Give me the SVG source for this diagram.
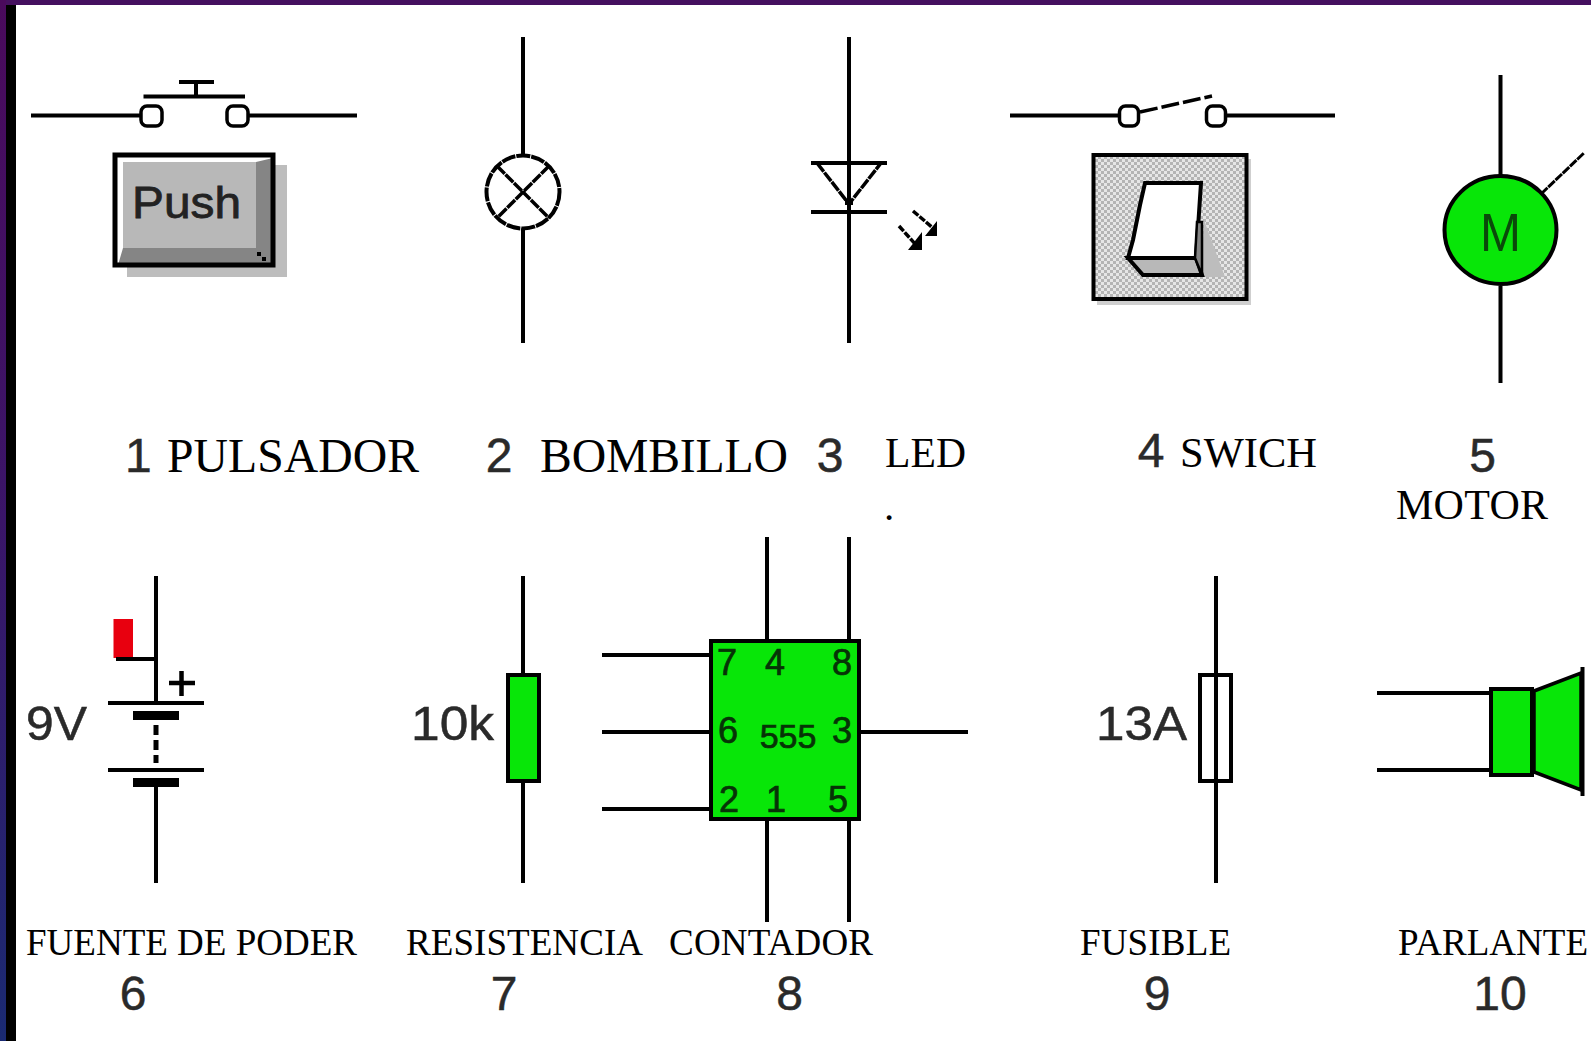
<svg xmlns="http://www.w3.org/2000/svg" width="1591" height="1041" viewBox="0 0 1591 1041">
<style>
.w{stroke:#000;stroke-width:4;fill:none}
.t{stroke:#000;stroke-width:3.5;fill:none}
.g{fill:#08e608;stroke:#000;stroke-width:4}
.s{font-family:"Liberation Serif",serif;fill:#000}
.n{font-family:"Liberation Sans",Arial,sans-serif;fill:#2a2a2a;stroke:#2a2a2a;stroke-width:.5px;font-size:48px}
.c{font-family:"Liberation Sans",Arial,sans-serif;fill:#063306;stroke:#063306;stroke-width:.7px;font-size:36px;text-anchor:middle}
.m{text-anchor:middle}
</style>
<defs>
<linearGradient id="side" x1="0" y1="0" x2="0" y2="1"><stop offset="0" stop-color="#4a0a5c"/><stop offset="0.5" stop-color="#3a1568"/><stop offset="1" stop-color="#1a2a72"/></linearGradient>
<pattern id="chk" width="6" height="6" patternUnits="userSpaceOnUse"><rect width="6" height="6" fill="#e6e6e6"/><rect width="3" height="3" fill="#b4b4b4"/><rect x="3" y="3" width="3" height="3" fill="#b4b4b4"/></pattern>
</defs>
<rect width="1591" height="1041" fill="#fff"/>
<g id="frame">
<rect width="1591" height="5" fill="#45105f"/>
<rect width="6" height="1041" fill="url(#side)"/>
<rect x="6" y="5" width="10" height="1036" fill="#000"/>
</g>
<g id="connectors">
<path class="w" d="M31 115.500H141M248 115.500H357"/>
<path class="w" d="M523 37V156M523 228V343"/>
<path class="w" d="M849 37V343"/>
<path class="w" d="M1010 115.500H1120M1226 115.500H1335"/>
<path class="w" d="M1500.500 75V175M1500.500 286V383"/>
<path class="w" d="M156 576V703M156 782V883"/>
<path class="w" d="M523 576V673M523 782V883"/>
<path class="w" d="M767 537V639M849 537V639M767 820V922M849 820V922M602 655H710M602 732H710M602 809H710M860 732H968"/>
<path class="w" d="M1216 576V883"/>
<path class="w" d="M1377 693H1490M1377 770H1490"/>
</g>
<g id="node1">
<rect x="127" y="165" width="160" height="112" fill="#bdbdbd"/>
<rect x="115" y="155" width="158" height="110" fill="#fff"/>
<rect x="123" y="162" width="150" height="103" fill="#b8b8b8"/>
<path d="M256 162L273 158V265H118L123 248H256Z" fill="#858585"/>
<path d="M257 252h4v4h-4zM262 257h4v4h-4z" fill="#000"/>
<rect x="115" y="155" width="158" height="110" fill="none" stroke="#000" stroke-width="5"/>
<text x="132" y="218" font-family="Liberation Sans,sans-serif" font-size="44" fill="#222" stroke="#222" stroke-width=".8" textLength="109" lengthAdjust="spacingAndGlyphs">Push</text>
<rect x="141" y="106" width="21" height="20" rx="6" class="t" style="fill:#fff"/>
<rect x="227" y="106" width="21" height="20" rx="6" class="t" style="fill:#fff"/>
<path class="w" d="M143.500 96.500H245M196 82V96.500M179 82H214"/>
<text class="n" x="125" y="472">1</text>
<text class="s" x="167" y="472" font-size="47.700" textLength="252">PULSADOR</text>
</g>
<g id="node2">
<circle cx="523" cy="192" r="36.500" class="w" style="fill:#fff;stroke-dasharray:14 1"/>
<path class="t" style="stroke-dasharray:11 1" d="M497 166L549 218M549 166L497 218"/>
<text class="n m" x="499" y="472">2</text>
<text class="s" x="540" y="472" font-size="47.700" textLength="248">BOMBILLO</text>
</g>
<g id="node3">
<path class="w" d="M811 163H887M811 212H887"/>
<path class="t" style="stroke-dasharray:11 1" d="M817 163L849 204L881 163"/>
<rect x="845" y="199" width="8" height="6"/>
<path class="t" style="stroke-dasharray:7 1.500" d="M913 211L933 228M899 226L917 246"/>
<path d="M937 221V236H925ZM922 232V250H908Z" fill="#000"/>
<text class="n m" x="830" y="472">3</text>
<text class="s" x="885" y="467" font-size="41.600" textLength="81">LED</text>
<text class="s" x="884" y="520" font-size="41">.</text>
</g>
<g id="node4">
<rect x="1097" y="159" width="154" height="146" fill="#cfcfcf"/>
<rect x="1093.500" y="155" width="153" height="144" fill="url(#chk)" stroke="#000" stroke-width="4"/>
<path d="M1204 220L1225 277H1201Z" fill="#bdbdbd"/>
<path d="M1145 183H1201L1196 258H1128L1133 240L1140 205Z" fill="#fff" stroke="#000" stroke-width="4"/>
<path d="M1128 258H1196L1202 275H1143Z" fill="#b8b8b8" stroke="#000" stroke-width="4"/>
<path d="M1195 258L1197 222L1202 222V275Z" fill="#858585" stroke="#000" stroke-width="2.500"/>
<rect x="1119.500" y="106" width="19" height="20" rx="6" class="t" style="fill:#fff"/>
<rect x="1206.500" y="106" width="19" height="20" rx="6" class="t" style="fill:#fff"/>
<path class="t" d="M1140 112L1212 96" style="stroke-dasharray:18 4"/>
<text class="n m" x="1151" y="467">4</text>
<text class="s" x="1180" y="467" font-size="42.500" textLength="137">SWICH</text>
</g>
<g id="node5">
<path class="t" d="M1541 194L1584 153" style="stroke-width:3;stroke-dasharray:9 1"/>
<ellipse cx="1500.500" cy="230" rx="56" ry="54" class="g"/>
<text x="1500.500" y="251" text-anchor="middle" font-family="Liberation Sans,sans-serif" font-size="54" fill="#0a4a0a" textLength="41" lengthAdjust="spacingAndGlyphs">M</text>
<text class="n m" x="1482.500" y="472">5</text>
<text class="s" x="1396" y="518.500" font-size="42" textLength="152">MOTOR</text>
</g>
<g id="node6">
<rect x="113.500" y="619" width="19.500" height="39" fill="#e8000f"/>
<path class="w" d="M116 659H156M108 703H204M108 770H204"/>
<rect x="133" y="711" width="46" height="9"/>
<rect x="133" y="778" width="46" height="9"/>
<path d="M156 725V763" stroke="#000" stroke-width="5" stroke-dasharray="10 5" fill="none"/>
<path d="M169 683H195M181.500 671V696" stroke="#000" stroke-width="4.500" fill="none"/>
<text class="n" x="26" y="740" textLength="61" lengthAdjust="spacingAndGlyphs">9V</text>
<text class="s" x="26" y="955" font-size="37" textLength="331">FUENTE DE PODER</text>
<text class="n m" x="133" y="1009.500">6</text>
</g>
<g id="node7">
<rect x="508" y="675" width="31" height="106" class="g"/>
<text class="n" x="411" y="740" textLength="83" lengthAdjust="spacingAndGlyphs">10k</text>
<text class="s" x="406" y="955" font-size="37" textLength="237">RESISTENCIA</text>
<text class="n m" x="504" y="1009.500">7</text>
</g>
<g id="node8">
<rect x="711" y="641" width="148" height="178" class="g"/>
<text class="c" x="727" y="675">7</text>
<text class="c" x="775" y="675">4</text>
<text class="c" x="842" y="675">8</text>
<text class="c" x="728" y="743">6</text>
<text class="c" x="788" y="748" style="font-size:34px">555</text>
<text class="c" x="842" y="743">3</text>
<text class="c" x="729" y="812">2</text>
<text class="c" x="776" y="812">1</text>
<text class="c" x="838" y="812">5</text>
<text class="s" x="669" y="955" font-size="37" textLength="204">CONTADOR</text>
<text class="n m" x="789.500" y="1009.500">8</text>
</g>
<g id="node9">
<rect x="1200" y="675" width="31" height="106" class="w"/>
<text class="n" x="1096" y="740" textLength="91" lengthAdjust="spacingAndGlyphs">13A</text>
<text class="s" x="1080" y="955" font-size="37" textLength="151">FUSIBLE</text>
<text class="n m" x="1157" y="1009.500">9</text>
</g>
<g id="node10">
<path d="M1534 691L1581 673V790L1534 772Z" class="g" style="stroke-width:3.500"/>
<rect x="1491" y="689" width="41" height="86" class="g"/>
<path class="w" d="M1582.500 667V796"/>
<text class="s" x="1398" y="955" font-size="37" textLength="190">PARLANTE</text>
<text class="n m" x="1500" y="1009.500">10</text>
</g>
</svg>
